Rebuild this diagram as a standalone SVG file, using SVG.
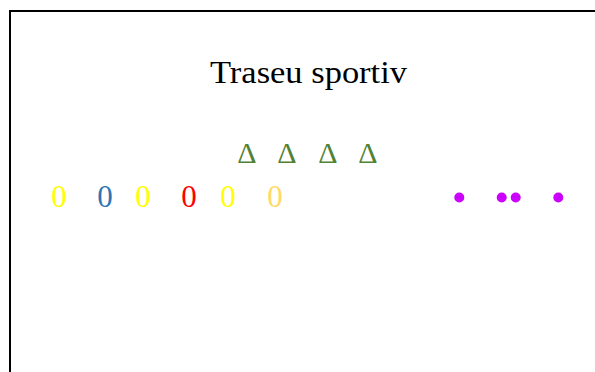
<svg xmlns="http://www.w3.org/2000/svg" width="595" height="372" viewBox="0 0 595 372">
<style>
.t{font-family:"Liberation Serif","DejaVu Serif",serif;text-anchor:middle}
.tri{font-size:30px;fill:#548235}
.z{font-size:31px}
.dot{fill:#CC00FF}
</style>
<rect x="0" y="0" width="595" height="372" fill="#fff"/>
<rect x="10" y="11" width="600" height="380" fill="none" stroke="#000" stroke-width="2"/>
<g id="title"><text class="t" x="308.5" y="83" font-size="32" fill="#000" textLength="197" lengthAdjust="spacingAndGlyphs">Traseu sportiv</text></g>
<g id="triangles">
<text class="t tri" x="247" y="163">Δ</text>
<text class="t tri" x="287" y="163">Δ</text>
<text class="t tri" x="328" y="163">Δ</text>
<text class="t tri" x="368" y="163">Δ</text>
</g>
<g id="zeros">
<text class="t z" x="59" y="207" fill="#FFFF00">0</text>
<text class="t z" x="105" y="207" fill="#2E74B5">0</text>
<text class="t z" x="143" y="207" fill="#FFFF00">0</text>
<text class="t z" x="189" y="207" fill="#FF0000">0</text>
<text class="t z" x="228" y="207" fill="#FFFF00">0</text>
<text class="t z" x="275" y="207" fill="#FFD966">0</text>
</g>
<g id="dots">
<circle class="dot" cx="459.3" cy="197.5" r="5"/>
<circle class="dot" cx="501.7" cy="197.5" r="5"/>
<circle class="dot" cx="515.7" cy="197.5" r="5"/>
<circle class="dot" cx="558.3" cy="197.5" r="5"/>
</g>
<g id="connectors"/>
</svg>
